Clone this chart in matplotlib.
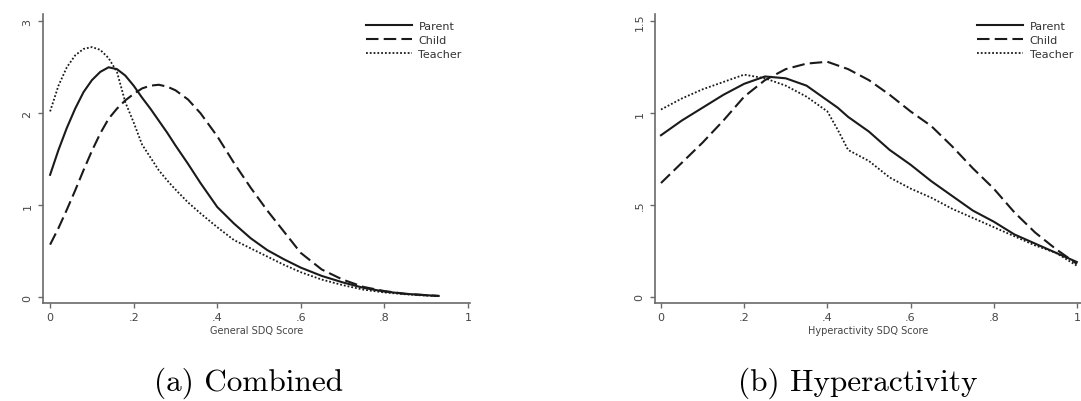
import matplotlib
matplotlib.use("Agg")
import matplotlib.pyplot as plt

# kernel density estimates
x_comb = [0, .02, .04, .06, .08, .10, .12, .14, .16, .18, .20, .22, .24, .26, .28, .30,
          .33, .36, .40, .44, .48, .52, .56, .60, .65, .70, .75, .80, .85, .90, .93]
parent_comb = [1.33, 1.60, 1.84, 2.05, 2.23, 2.36, 2.45, 2.50, 2.48, 2.41, 2.30, 2.17, 2.05, 1.92,
               1.79, 1.65, 1.45, 1.24, 0.98, 0.80, 0.64, 0.51, 0.41, 0.32, 0.23, 0.16, 0.10,
               0.06, 0.035, 0.02, 0.012]
child_comb = [0.57, 0.75, 0.95, 1.16, 1.38, 1.59, 1.78, 1.94, 2.05, 2.14, 2.21, 2.27, 2.30, 2.31,
              2.29, 2.25, 2.15, 2.00, 1.75, 1.46, 1.19, 0.94, 0.71, 0.48, 0.30, 0.19, 0.11,
              0.065, 0.035, 0.02, 0.012]
teacher_comb = [2.02, 2.30, 2.50, 2.63, 2.70, 2.72, 2.69, 2.60, 2.45, 2.12, 1.90, 1.66, 1.52, 1.38,
                1.27, 1.17, 1.03, 0.91, 0.76, 0.62, 0.53, 0.44, 0.35, 0.27, 0.19, 0.13, 0.08,
                0.05, 0.03, 0.015, 0.01]

x_hyp = [0, .05, .10, .15, .20, .25, .30, .35, .40, .425, .45, .50, .55, .60, .65, .70, .75,
         .80, .85, .90, .95, 1.0]
parent_hyp = [0.88, 0.96, 1.03, 1.10, 1.16, 1.20, 1.19, 1.15, 1.07, 1.03, 0.98, 0.90, 0.80, 0.72,
              0.63, 0.55, 0.47, 0.41, 0.34, 0.29, 0.24, 0.19]
child_hyp = [0.62, 0.73, 0.84, 0.96, 1.09, 1.18, 1.24, 1.27, 1.28, 1.26, 1.24, 1.18, 1.10, 1.01,
             0.93, 0.82, 0.70, 0.59, 0.46, 0.35, 0.26, 0.18]
teacher_hyp = [1.02, 1.08, 1.13, 1.17, 1.21, 1.19, 1.15, 1.09, 1.01, 0.91, 0.80, 0.74, 0.65, 0.59,
               0.54, 0.48, 0.43, 0.38, 0.33, 0.28, 0.24, 0.17]

x_ticks = [0, .2, .4, .6, .8, 1]
x_ticklabels = ["0", ".2", ".4", ".6", ".8", "1"]

panels = [
    dict(x=x_comb, parent=parent_comb, child=child_comb, teacher=teacher_comb,
         yticks=[0, 1, 2, 3], yticklabels=["0", "1", "2", "3"], ylim=(-0.065, 3.08),
         xlim=(-0.017, 1.005), xlabel="General SDQ Score", caption="(a) Combined",
         rect=[43 / 1081, 98 / 402, 427 / 1081, 289 / 402], cap_x=249 / 1081),
    dict(x=x_hyp, parent=parent_hyp, child=child_hyp, teacher=teacher_hyp,
         yticks=[0, .5, 1, 1.5], yticklabels=["0", ".5", "1", "1.5"], ylim=(-0.033, 1.54),
         xlim=(-0.0144, 1.01), xlabel="Hyperactivity SDQ Score", caption="(b) Hyperactivity",
         rect=[655 / 1081, 98 / 402, 426 / 1081, 289 / 402], cap_x=858 / 1081),
]

fig = plt.figure(figsize=(10.81, 4.02), dpi=100)
ink = "#1a1a1a"
axcol = "#6a6a6a"

for p in panels:
    ax = fig.add_axes(p["rect"])
    ax.plot(p["x"], p["parent"], color=ink, lw=1.5, label="Parent")
    ax.plot(p["x"], p["child"], color=ink, lw=1.5, dashes=(6, 2.5), label="Child")
    ax.plot(p["x"], p["teacher"], color=ink, lw=1.3, dashes=(1, 1.1), label="Teacher")
    ax.set_xlim(*p["xlim"])
    ax.set_ylim(*p["ylim"])
    ax.set_xticks(x_ticks)
    ax.set_xticklabels(x_ticklabels)
    ax.set_yticks(p["yticks"])
    ax.set_yticklabels(p["yticklabels"], rotation=90, va="center")
    for s in ["top", "right"]:
        ax.spines[s].set_visible(False)
    for s in ["left", "bottom"]:
        ax.spines[s].set_color(axcol)
        ax.spines[s].set_linewidth(1.2)
    ax.tick_params(length=3.5, width=1, color=axcol, labelsize=8, labelcolor="#444444", pad=3)
    ax.tick_params(axis="y", pad=4)
    ax.set_xlabel(p["xlabel"], fontsize=7, color="#444444", labelpad=2)
    ax.legend(loc="upper left", bbox_to_anchor=(0.757, 0.975), frameon=False, fontsize=8,
              handlelength=4.1, handletextpad=0.6, labelspacing=0.35, borderpad=0,
              borderaxespad=0, labelcolor="#333333")
    fig.text(p["cap_x"], 1 - 383 / 402, p["caption"], ha="center", va="center",
             fontsize=22.5, family="cmr10")

fig.savefig("out.png", dpi=100)
